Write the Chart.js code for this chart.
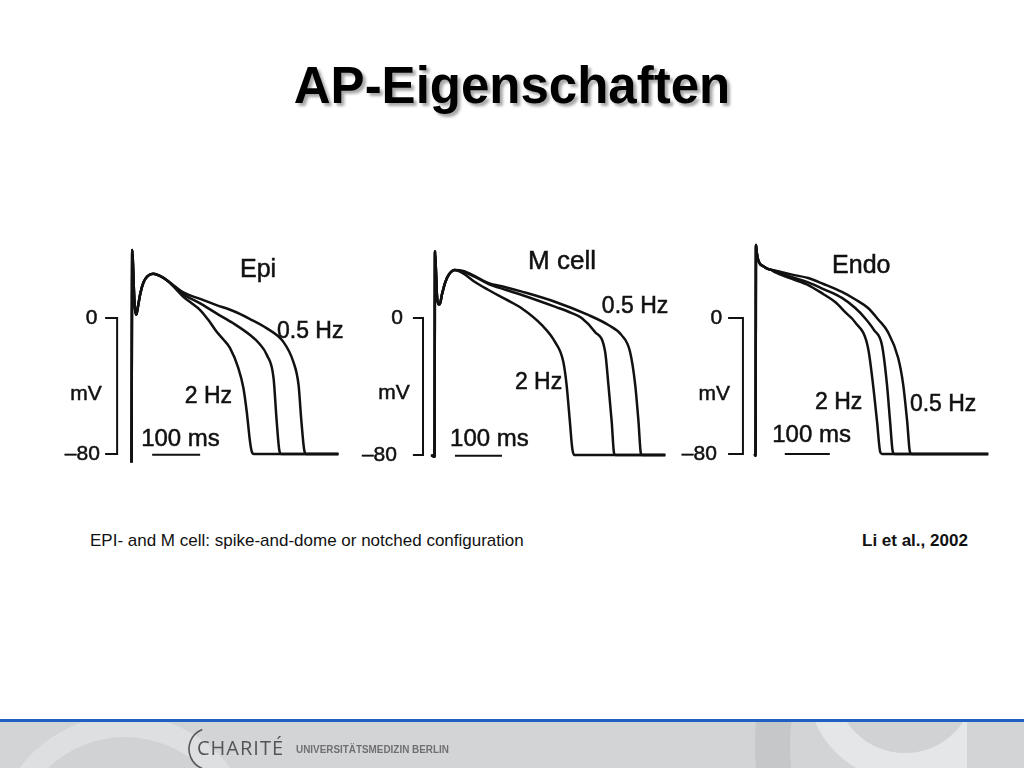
<!DOCTYPE html>
<html>
<head>
<meta charset="utf-8">
<script src="https://cdn.jsdelivr.net/npm/chart.js@4/dist/chart.umd.min.js"></script>
<style>
  html, body { margin: 0; padding: 0; background: #fff; }
  body { width: 1024px; height: 768px; position: relative; overflow: hidden; font-family: "Liberation Sans", Arial, sans-serif; }
  .title { position: absolute; left: 0; width: 1024px; top: 60px; text-align: center; font-size: 51px; line-height: 51px; font-weight: bold; color: #000; text-shadow: 3px 3px 3px rgba(0,0,0,0.35); }
  .caption { position: absolute; top: 532px; font-size: 17px; line-height: 17px; color: #111; white-space: nowrap; }
  canvas.panel { position: absolute; top: 235px; }
  #footer { position: absolute; left: 0; top: 718px; }
  .logo { position: absolute; top: 736px; color: #4b4b4d; white-space: nowrap; }
</style>
</head>
<body>
<div class="title">AP-Eigenschaften</div>

<canvas id="epiChart" class="panel" width="310" height="235" style="left:40px"></canvas>
<canvas id="mChart" class="panel" width="320" height="235" style="left:352px"></canvas>
<canvas id="endoChart" class="panel" width="330" height="235" style="left:674px"></canvas>

<div class="caption" style="left:90px">EPI- and M cell: spike-and-dome or notched configuration</div>
<div class="caption" style="left:862px; font-weight:bold">Li et al., 2002</div>

<canvas id="footer" width="1024" height="50"></canvas>
<div class="logo" style="left:197px; font-family:'Open Sans'; font-weight:400; font-size:20px; line-height:24px; letter-spacing:1px; color:#555557">CHARITÉ</div>
<div class="logo" style="left:296px; top:743px; font-family:'Liberation Sans'; font-weight:bold; font-size:11px; line-height:12px; color:#707072; transform-origin:left top; transform:scaleX(0.9)">UNIVERSITÄTSMEDIZIN BERLIN</div>

<script>
// time in ms from upstroke, membrane potential in mV
const epiOnset = [[-1, -85], [0.5, 40], [2, 32], [4, 16], [6, 6], [9, 2], [12, 6], [17, 14], [24, 21], [32, 24.5], [44, 26], [58, 24.8], [72, 22.4]];
const epi2Hz = [[90, 17.5], [107, 12.5], [125, 8.5], [142, 4.7], [160, -1.5], [176, -8], [190, -12.5], [204, -17.6], [221, -29], [232, -41], [239, -55], [246, -73], [250, -79], [254, -80], [430, -80]];
const epi1Hz = [[90, 18], [107, 13.9], [142, 8.6], [176, 2.7], [211, -3.1], [246, -10], [265, -15], [281, -21.8], [295, -35.5], [301, -59], [307, -78], [311, -80], [430, -80]];
const epi05Hz = [[90, 18.5], [107, 15.1], [142, 11.2], [176, 7.6], [211, 4.1], [246, -0.6], [281, -6.1], [315, -13.9], [336, -25.7], [347, -39.4], [353, -61], [359, -78], [363, -80], [430, -80]];

const mOnset = [[-8, -80], [-1, -81], [0, 39], [2, 28], [4, 14], [7, 8], [10, 8], [15, 14], [22, 21], [30, 25.5], [42, 28]];
const m2Hz = [[60, 26], [85, 21], [113, 16.5], [150, 11], [185, 5.6], [227, -4], [255, -13.8], [273, -25.5], [280, -39], [287, -60.5], [292, -76], [296, -80], [490, -80]];
const m1Hz = [[60, 27], [85, 24], [113, 20], [150, 16.5], [185, 13.4], [255, 6.6], [290, 3], [312, 0], [340, -8], [362, -19.7], [369, -39], [376, -60.5], [381, -79], [384, -80], [490, -80]];
const m05Hz = [[60, 27.5], [85, 24.5], [113, 20.5], [150, 18], [185, 15.4], [255, 9.5], [326, 1.8], [369, -4.1], [397, -10], [415, -19.7], [426, -39], [433, -60.5], [438, -79], [441, -80], [490, -80]];

const endoOnset = [[-3, -80], [-1, -81], [0, 43], [2, 38], [5, 34], [10, 31.5], [14, 30.8], [25, 29], [35, 28.2]];
const endo2Hz = [[42, 27], [80, 23], [116, 19.4], [150, 14], [176, 9.4], [200, 3], [220, -2.4], [249, -17.6], [260, -39], [269, -61], [276, -78.8], [280, -80], [516, -80]];
const endo1Hz = [[42, 27.5], [80, 24], [116, 21], [150, 17], [191, 11.8], [220, 6], [242, 0], [262, -7], [280, -16], [291, -39], [298, -61], [304, -78.8], [308, -80], [516, -80]];
const endo05Hz = [[42, 28], [80, 25.5], [116, 23.5], [150, 20], [191, 15.3], [220, 11], [249, 5.9], [272, -1], [293, -8.2], [316, -23.5], [327, -39], [336, -61], [342, -78.8], [346, -80], [516, -80]];

const rateLabels = ['2 Hz', '1 Hz', '0.5 Hz'];

function toXY(onset, tail) {
  return onset.concat(tail).map(p => ({ x: p[0], y: p[1] }));
}

// draws the mV bracket, the 100 ms bar and the text labels
const apDeco = {
  id: 'apDeco',
  afterDatasetsDraw(chart, args, opts) {
    const { ctx, scales: { x, y } } = chart;
    ctx.save();
    ctx.strokeStyle = '#111';
    ctx.fillStyle = '#111';
    ctx.lineWidth = 2;
    const bx = x.getPixelForValue(opts.bracketT);
    const tx = x.getPixelForValue(opts.tickT);
    const y0 = y.getPixelForValue(0);
    const y80 = y.getPixelForValue(-80);
    ctx.beginPath();
    ctx.moveTo(tx, y0); ctx.lineTo(bx, y0); ctx.lineTo(bx, y80); ctx.lineTo(tx, y80);
    ctx.stroke();

    const by = y.getPixelForValue(opts.bar.v);
    ctx.beginPath();
    ctx.moveTo(x.getPixelForValue(opts.bar.t), by);
    ctx.lineTo(x.getPixelForValue(opts.bar.t + 100), by);
    ctx.stroke();

    ctx.textBaseline = 'middle';
    ctx.lineWidth = 0.5;
    opts.labels.forEach(l => {
      ctx.font = l.size + 'px "Liberation Sans", Arial, sans-serif';
      ctx.textAlign = l.align || 'left';
      const px = x.getPixelForValue(l.t), py = y.getPixelForValue(l.v);
      ctx.fillText(l.text, px, py);
      ctx.strokeText(l.text, px, py);
    });
    ctx.restore();
  }
};

function makePanel(id, series, range, deco) {
  new Chart(document.getElementById(id), {
    type: 'line',
    data: {
      datasets: series.map((d, i) => ({
        label: rateLabels[i],
        data: d,
        borderColor: '#111',
        borderWidth: 2.5,
        pointRadius: 0,
        cubicInterpolationMode: 'monotone',
        fill: false
      }))
    },
    options: {
      responsive: false,
      animation: false,
      layout: { padding: 0 },
      plugins: { legend: { display: false }, tooltip: { enabled: false }, apDeco: deco },
      scales: {
        x: { type: 'linear', min: range[0], max: range[1], display: false },
        y: { min: range[2], max: range[3], display: false }
      }
    },
    plugins: [apDeco]
  });
}

makePanel('epiChart',
  [toXY(epiOnset, epi2Hz), toXY(epiOnset, epi1Hz), toXY(epiOnset, epi05Hz)],
  [-191.7, 454.2, -89.41, 48.82],
  {
    bracketT: -31, tickT: -56,
    bar: { t: 42, v: -80.5 },
    labels: [
      { text: '0', t: -72, v: 0, size: 21, align: 'right' },
      { text: 'mV', t: -96, v: -45, size: 21, align: 'center' },
      { text: '\u201380', t: -67, v: -80, size: 21, align: 'right' },
      { text: 'Epi', t: 225, v: 28, size: 25 },
      { text: '0.5 Hz', t: 302, v: -8, size: 23 },
      { text: '2 Hz', t: 110, v: -46.5, size: 23 },
      { text: '100 ms', t: 19, v: -71.5, size: 24 }
    ]
  });

makePanel('mChart',
  [toXY(mOnset, m2Hz), toXY(mOnset, m1Hz), toXY(mOnset, m05Hz)],
  [-176.6, 504.3, -88.76, 48.47],
  {
    bracketT: -25.5, tickT: -47,
    bar: { t: 42.5, v: -80.5 },
    labels: [
      { text: '0', t: -68, v: 0, size: 21, align: 'right' },
      { text: 'mV', t: -87, v: -44, size: 21, align: 'center' },
      { text: '\u201380', t: -81, v: -80, size: 21, align: 'right' },
      { text: 'M cell', t: 198, v: 33, size: 26 },
      { text: '0.5 Hz', t: 355, v: 6.4, size: 23 },
      { text: '2 Hz', t: 170, v: -38, size: 23 },
      { text: '100 ms', t: 32, v: -71, size: 24 }
    ]
  });

makePanel('endoChart',
  [toXY(endoOnset, endo2Hz), toXY(endoOnset, endo1Hz), toXY(endoOnset, endo05Hz)],
  [-182.2, 551.1, -89.41, 48.82],
  {
    bracketT: -29, tickT: -62,
    bar: { t: 64, v: -80 },
    labels: [
      { text: '0', t: -75, v: 0, size: 21, align: 'right' },
      { text: 'mV', t: -93, v: -45, size: 21, align: 'center' },
      { text: '\u201380', t: -87, v: -80, size: 21, align: 'right' },
      { text: 'Endo', t: 169, v: 30.6, size: 25 },
      { text: '2 Hz', t: 131, v: -50, size: 23 },
      { text: '0.5 Hz', t: 342, v: -51, size: 23 },
      { text: '100 ms', t: 36, v: -69, size: 24 }
    ]
  });

// footer band with the decorative arcs
(function drawFooter() {
  const c = document.getElementById('footer').getContext('2d');
  c.translate(0, -718);
  c.fillStyle = '#1f60c0';
  c.fillRect(0, 719, 1024, 3);
  c.save();
  c.beginPath();
  c.rect(0, 722, 1024, 46);
  c.clip();
  c.fillStyle = '#d3d4d6';
  c.fillRect(0, 722, 1024, 46);
  // left ring
  c.fillStyle = '#dedfe1';
  c.beginPath(); c.arc(125, 846, 131, 0, Math.PI * 2); c.fill();
  c.fillStyle = '#d1d2d4';
  c.beginPath(); c.arc(125, 848, 111, 0, Math.PI * 2); c.fill();
  // right dark band
  c.fillStyle = '#c6c7c9';
  c.beginPath(); c.arc(1010, 745, 255, 0, Math.PI * 2); c.arc(1010, 745, 220, 0, Math.PI * 2, true); c.fill();
  // right light ring
  c.save();
  c.beginPath(); c.rect(0, 722, 967, 46); c.clip();
  c.fillStyle = '#e5e6e8';
  c.beginPath(); c.arc(905, 683, 98, 0, Math.PI * 2); c.fill();
  c.fillRect(905, 722, 62, 46);
  c.fillStyle = '#d1d2d4';
  c.beginPath(); c.arc(905, 683, 70, 0, Math.PI * 2); c.fill();
  c.restore();
  // logo arc
  c.strokeStyle = '#58585a';
  c.lineWidth = 1.6;
  c.beginPath(); c.arc(210, 749, 21, Math.PI * 0.62, Math.PI * 1.38); c.stroke();
  c.restore();
})();
</script>
</body>
</html>
